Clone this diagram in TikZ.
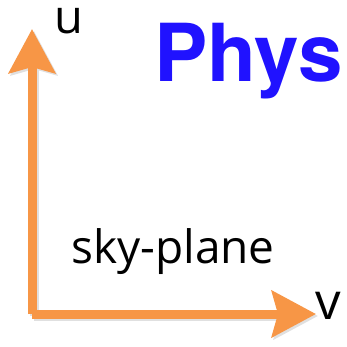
\documentclass[tikz,border=0pt]{standalone}
\usepackage{fontspec}
\setsansfont{Open Sans}
\newfontfamily\headfont{TeX Gyre Heros}
\usetikzlibrary{arrows.meta,positioning}
\definecolor{axisorange}{RGB}{247,150,70}
\definecolor{physblue}{RGB}{32,18,255}
\tikzset{
	axis/.style={line width=9pt, draw=axisorange, -{Stealth[length=44pt, width=46pt, inset=6pt]}},
	axisshadow/.style={line width=9pt, draw=black!12, -{Stealth[length=44pt, width=46pt, inset=6pt]}},
	axislabel/.style={font=\sffamily\fontsize{47}{47}\selectfont, inner sep=0pt},
	plabel/.style={font=\sffamily\fontsize{46}{46}\selectfont, inner sep=0pt, anchor=base west},
	title/.style={font=\headfont\bfseries\fontsize{80}{80}\selectfont, text=physblue, inner sep=0pt, anchor=base west}
}

\begin{document}
\begin{tikzpicture}[x=1pt, y=-1pt]
	\useasboundingbox (0,0) rectangle (347,347);
	\coordinate (origin) at (32,314);
	\coordinate (utip) at (32,29);
	\coordinate (vtip) at (316,314);
	% soft shadow under the axes
	\draw[axisshadow] ([shift={(2,2)}]origin) -- ([shift={(2,2)}]utip);
	\draw[axisshadow] ([shift={(2,2)}]origin) -- ([shift={(2,2)}]vtip);
	\draw[axis] (origin) -- (utip);
	\draw[axis] (origin) -- (vtip);
	\node[axislabel] (ulabel) at (69,21) {u};
	\node[axislabel, font=\sffamily\fontsize{51}{51}\selectfont] (vlabel) at (328,306) {v};
	\node[plabel] (plane) at (71,263) {sky-plane};
	\node[title] (phys) at (154,82) {Phys};
\end{tikzpicture}
\end{document}
